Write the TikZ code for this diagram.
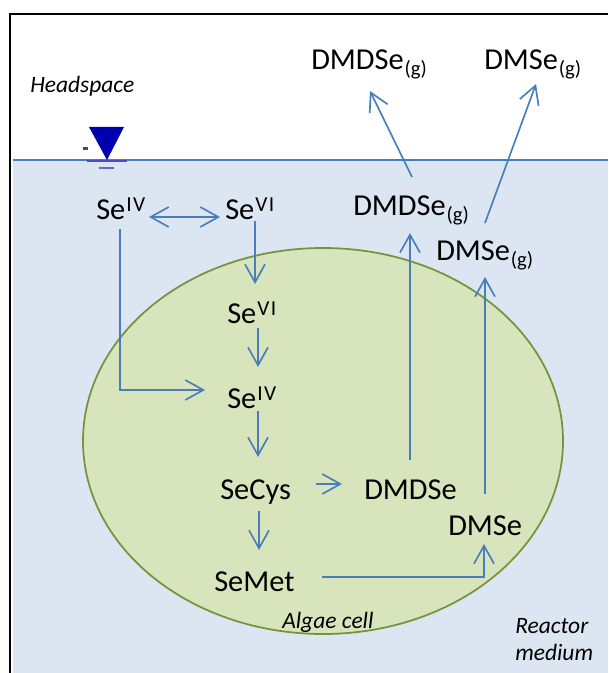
\documentclass[tikz,border=0pt]{standalone}
\usepackage{fontspec}
\setmainfont{Carlito}
\usetikzlibrary{arrows.meta}
\definecolor{medium}{HTML}{DCE6F2}
\definecolor{cellfill}{HTML}{D8E4BC}
\definecolor{cellline}{HTML}{76923C}
\definecolor{conn}{HTML}{4A7EBB}
\definecolor{sym}{HTML}{0000B0}
\newcommand{\Sp}[2]{#1\kern0.8pt\raisebox{6pt}{\fontsize{16}{16}\selectfont\addfontfeature{LetterSpace=6}#2}}
\newcommand{\Sb}[2]{#1\kern0.6pt\raisebox{-3.8pt}{\fontsize{15.5}{16}\selectfont (#2)}}
\tikzset{
  x=0.75pt,y=-0.75pt,
  chem/.style={anchor=base west,inner sep=0pt,font=\fontsize{22.8}{24}\selectfont},
  note/.style={anchor=base west,inner sep=0pt,font=\fontsize{17.6}{20}\selectfont\itshape},
  flow/.style={draw=conn,line width=1.25pt,-{Straight Barb[length=13.5pt,width=15pt,line width=1.25pt]}},
  flowboth/.style={draw=conn,line width=1.25pt,{Straight Barb[length=13.5pt,width=15pt,line width=1.25pt]}-{Straight Barb[length=13.5pt,width=15pt,line width=1.25pt]}},
}
\begin{document}
\begin{tikzpicture}
\useasboundingbox (0,0) rectangle (608,673);
\fill[white] (0,0) rectangle (608,673);
\fill[medium] (13,160) rectangle (608,673);
\draw[black,line width=1.2pt] (10,673) -- (10,14) -- (608,14);
\draw[conn,line width=1.3pt] (13,160) -- (608,160);
\draw[cellline,fill=cellfill,line width=1.3pt] (323,441) ellipse [x radius=240,y radius=193];
% water level symbol
\fill[sym] (89,127) -- (124,127) -- (107,160) -- cycle;
\draw[sym!70!white,line width=1.2pt] (87,161) -- (127,161);
\draw[sym!60!white,line width=1.2pt] (99,168) -- (114,168);
\draw[black!70,line width=2pt] (83,148.5) -- (88,148.5);
% labels
\node[note] (headspace) at (30,93) {Headspace};
\node[note] (algae) at (282,628) {Algae cell};
\node[note] (reactor) at (515,633) {Reactor};
\node[note] (medlabel) at (515,660) {medium};
% chemical species
\node[chem] (topdmdse) at (311,70) {\Sb{DMDSe}{g}};
\node[chem] (topdmse) at (484,70) {\Sb{DMSe}{g}};
\node[chem] (middmdse) at (353,216) {\Sb{DMDSe}{g}};
\node[chem] (middmse) at (436,261) {\Sb{DMSe}{g}};
\node[chem] (seivout) at (96,220) {\Sp{Se}{IV}};
\node[chem] (seviout) at (225,220) {\Sp{Se}{VI}};
\node[chem] (seviin) at (227,323) {\Sp{Se}{VI}};
\node[chem] (seivin) at (227,408) {\Sp{Se}{IV}};
\node[chem] (secys) at (220,499) {SeCys};
\node[chem] (semet) at (214,591) {SeMet};
\node[chem] (dmdse) at (364,499) {DMDSe};
\node[chem] (dmse) at (448,535) {DMSe};
% connector ends
\coordinate (a1) at (149,217); \coordinate (a2) at (220,217);
\coordinate (b1) at (120,229); \coordinate (b2) at (120,390); \coordinate (b3) at (205,390);
\coordinate (c1) at (255,221); \coordinate (c2) at (255,284);
\coordinate (d1) at (258,328); \coordinate (d2) at (258,367);
\coordinate (e1) at (258,411); \coordinate (e2) at (258,457);
\coordinate (f1) at (259,511); \coordinate (f2) at (259,550);
\coordinate (g1) at (316,484); \coordinate (g2) at (342,484);
\coordinate (h1) at (322,577); \coordinate (h2) at (484,577); \coordinate (h3) at (484,544);
\coordinate (i1) at (410,460); \coordinate (i2) at (410,233);
\coordinate (j1) at (485,494); \coordinate (j2) at (485,277);
\coordinate (k1) at (412,177); \coordinate (k2) at (370,91);
\coordinate (l1) at (485,223); \coordinate (l2) at (536,84);
\draw[flowboth] (a1) -- (a2);
\draw[flow] (b1) -- (b2) -- (b3);
\draw[flow] (c1) -- (c2);
\draw[flow] (d1) -- (d2);
\draw[flow] (e1) -- (e2);
\draw[flow] (f1) -- (f2);
\draw[flow] (g1) -- (g2);
\draw[flow] (h1) -- (h2) -- (h3);
\draw[flow] (i1) -- (i2);
\draw[flow] (j1) -- (j2);
\draw[flow] (k1) -- (k2);
\draw[flow] (l1) -- (l2);
\end{tikzpicture}
\end{document}
